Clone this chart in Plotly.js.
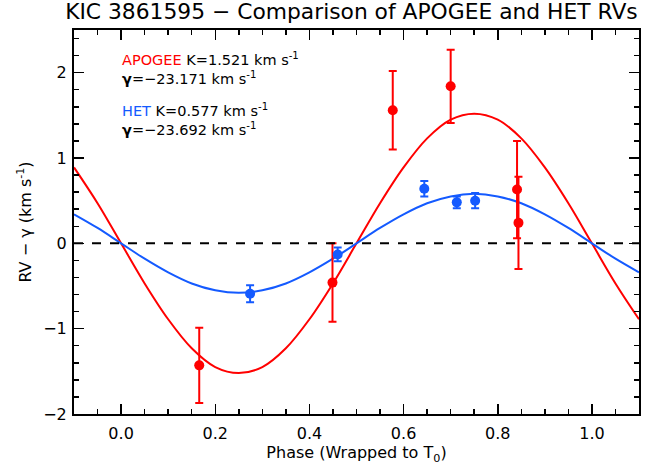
<!DOCTYPE html>
<html>
<head>
<meta charset="utf-8">
<script src="https://cdn.plot.ly/plotly-3.0.1.min.js"></script>
<style>html,body{margin:0;padding:0;background:#fff;}#plot{width:652px;height:466px;}</style>
</head>
<body>
<div id="plot"></div>
<script>
// APOGEE radial velocities (phase, RV - gamma, error)
const apogeePhase = [0.166, 0.449, 0.577, 0.700, 0.841, 0.844];
const apogeeRV    = [-1.43, -0.46, 1.56, 1.84, 0.63, 0.24];
const apogeeErr   = [0.44, 0.46, 0.46, 0.43, 0.57, 0.54];

// HET radial velocities
const hetPhase = [0.274, 0.460, 0.644, 0.713, 0.752];
const hetRV    = [-0.59, -0.13, 0.64, 0.48, 0.50];
const hetErr   = [0.10, 0.08, 0.09, 0.07, 0.09];

// Model curves
const modelPhase = [-0.10, -0.05, 0.00, 0.05, 0.10, 0.15, 0.20, 0.25, 0.30, 0.35, 0.40, 0.45, 0.50,
                    0.55, 0.60, 0.65, 0.70, 0.75, 0.80, 0.85, 0.90, 0.95, 1.00, 1.05, 1.10];
const apogeeModel = [0.89, 0.47, 0.00, -0.47, -0.89, -1.23, -1.45, -1.52, -1.45, -1.23, -0.89, -0.47, 0.00,
                     0.47, 0.89, 1.23, 1.45, 1.52, 1.45, 1.23, 0.89, 0.47, 0.00, -0.47, -0.89];
const hetModel = [0.34, 0.18, 0.00, -0.18, -0.34, -0.47, -0.55, -0.58, -0.55, -0.47, -0.34, -0.18, 0.00,
                  0.18, 0.34, 0.47, 0.55, 0.58, 0.55, 0.47, 0.34, 0.18, 0.00, -0.18, -0.34];

// Tick labels
const xTickVals = [0, 0.2, 0.4, 0.6, 0.8, 1.0];
const xTickText = ['0.0', '0.2', '0.4', '0.6', '0.8', '1.0'];
const yTickVals = [-2, -1, 0, 1, 2];
const yTickText = ['−2', '−1', '0', '1', '2'];

const RED = 'rgb(255,0,0)';
const BLUE = 'rgb(20,90,255)';
const FONT = 'DejaVu Sans, sans-serif';

const traces = [
  {x: modelPhase, y: apogeeModel, mode: 'lines', line: {color: RED, width: 2, shape: 'spline'}, hoverinfo: 'skip'},
  {x: modelPhase, y: hetModel, mode: 'lines', line: {color: BLUE, width: 2, shape: 'spline'}, hoverinfo: 'skip'},
  {x: apogeePhase, y: apogeeRV, mode: 'markers', marker: {color: RED, size: 10},
   error_y: {type: 'data', array: apogeeErr, visible: true, color: RED, thickness: 2, width: 4}},
  {x: hetPhase, y: hetRV, mode: 'markers', marker: {color: BLUE, size: 10},
   error_y: {type: 'data', array: hetErr, visible: true, color: BLUE, thickness: 2, width: 4}}
];

const axisCommon = {
  showgrid: false, zeroline: false, showline: true, linecolor: 'black', linewidth: 2,
  mirror: 'allticks', ticks: 'inside', tickcolor: 'black', tickwidth: 1.5, ticklen: 10,
  tickfont: {family: FONT, size: 16, color: 'black'}
};

const layout = {
  width: 652, height: 466,
  margin: {l: 74, r: 13, t: 30, b: 52},
  paper_bgcolor: 'white', plot_bgcolor: 'white',
  showlegend: false,
  title: {text: 'KIC 3861595 − Comparison of APOGEE and HET RVs', font: {family: FONT, size: 21.8, color: 'black'},
          x: 0.539, xanchor: 'center', y: 0.992, yanchor: 'top'},
  xaxis: Object.assign({}, axisCommon, {
    range: [-0.1, 1.1], tickvals: xTickVals, ticktext: xTickText, ticklabelstandoff: 4,
    minor: {dtick: 0.05, tick0: 0, ticks: 'inside', ticklen: 5, tickcolor: 'black', tickwidth: 1.5},
    title: {text: 'Phase (Wrapped to T<sub>0</sub>)', font: {family: FONT, size: 16, color: 'black'}, standoff: 4}
  }),
  yaxis: Object.assign({}, axisCommon, {
    range: [-2.0, 2.5], tickvals: yTickVals, ticktext: yTickText, ticklabelstandoff: 2,
    minor: {dtick: 0.2, tick0: 0, ticks: 'inside', ticklen: 5, tickcolor: 'black', tickwidth: 1.5},
    title: {text: 'RV − γ (km s<sup>-1</sup>)', font: {family: FONT, size: 16, color: 'black'}, standoff: 8}
  }),
  shapes: [
    {type: 'line', xref: 'paper', x0: 0, x1: 1, yref: 'y', y0: 0, y1: 0, line: {color: 'black', width: 2, dash: 'dash'}}
  ],
  annotations: [
    {xref: 'paper', yref: 'paper', x: 0.082, y: 0.9, xanchor: 'left', yanchor: 'middle', showarrow: false, align: 'left',
     text: '<span style="color:rgb(255,0,0)">APOGEE</span> K=1.521 km s<sup>-1</sup><br><b>γ</b>=−23.171 km s<sup>-1</sup>',
     font: {family: FONT, size: 14.5, color: 'black'}},
    {xref: 'paper', yref: 'paper', x: 0.082, y: 0.767, xanchor: 'left', yanchor: 'middle', showarrow: false, align: 'left',
     text: '<span style="color:' + BLUE + '">HET</span> K=0.577 km s<sup>-1</sup><br><b>γ</b>=−23.692 km s<sup>-1</sup>',
     font: {family: FONT, size: 14.5, color: 'black'}}
  ]
};

Plotly.newPlot('plot', traces, layout, {displayModeBar: false, staticPlot: true});
</script>
</body>
</html>
